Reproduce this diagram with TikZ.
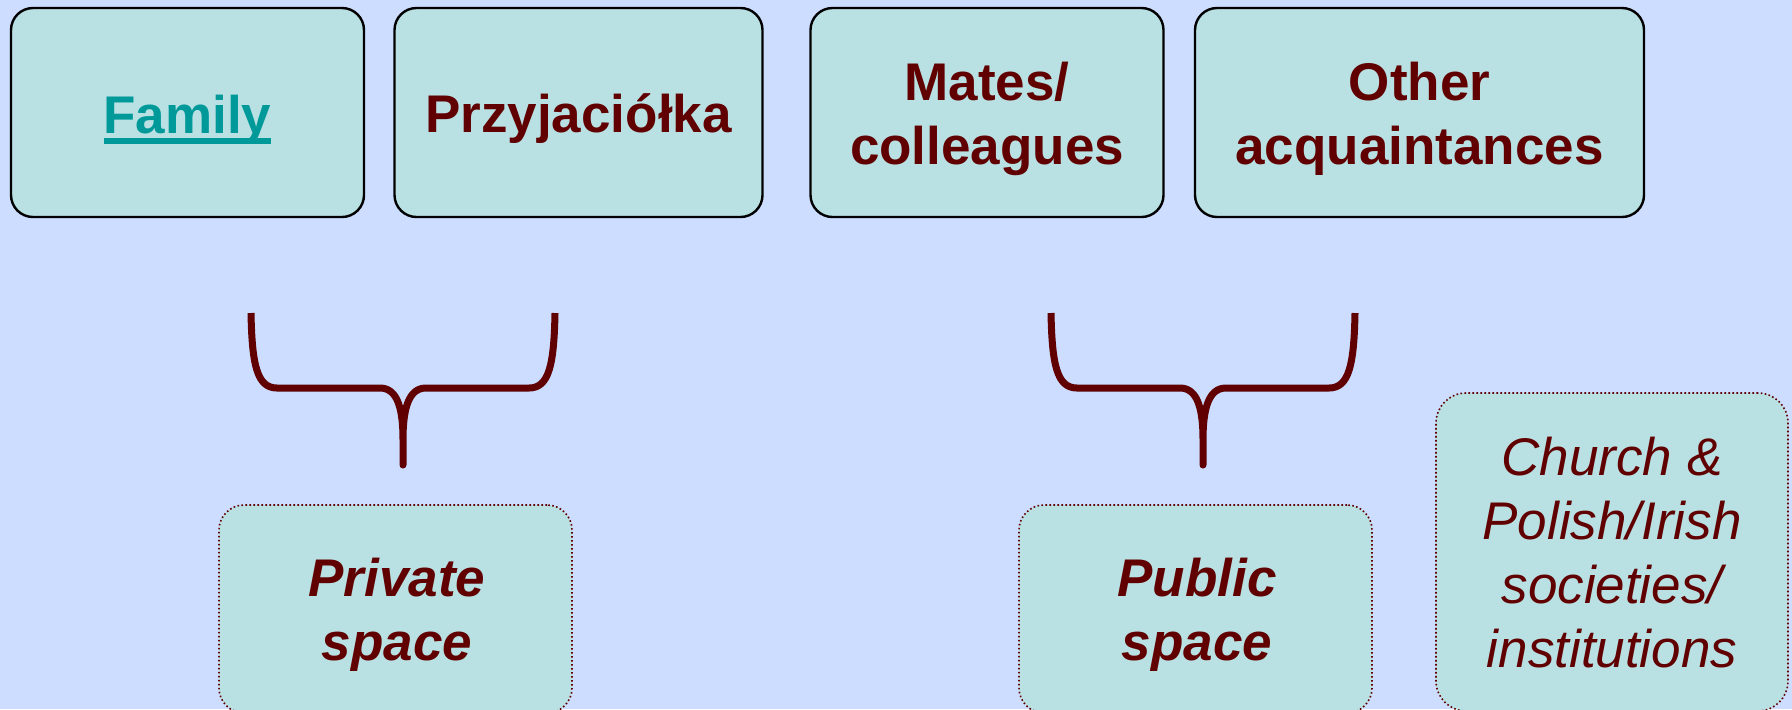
\documentclass[tikz,border=0pt]{standalone}
\usepackage{fontspec}
\setmainfont{Liberation Sans}
\definecolor{pagebg}{HTML}{CCDDFF}
\definecolor{boxfill}{HTML}{B9E0E3}
\definecolor{wine}{HTML}{600000}
\definecolor{linkteal}{HTML}{009999}
% underline drawn as a thick rule under the word
\newcommand{\linkword}[1]{\setbox0=\hbox{#1}\rlap{\rule[-5.5pt]{\wd0}{3pt}}\box0}
\tikzset{
  topbox/.style={draw=black, line width=1.2pt, fill=boxfill, rounded corners=11pt,
    minimum height=104.5pt, inner sep=0pt},
  spacebox/.style={draw=wine, line width=0.8pt, dash pattern=on 0.8pt off 1.2pt,
    fill=boxfill, inner sep=0pt},
  lbl/.style={text=wine, font=\fontsize{26.5}{31.75}\selectfont\bfseries,
    align=center, anchor=base, inner sep=0pt},
  lblit/.style={lbl, font=\fontsize{26.5}{31.75}\selectfont\bfseries\itshape},
  lblplain/.style={lbl, font=\fontsize{26.5}{32}\selectfont\itshape},
  bracestroke/.style={draw=wine, line width=3.5pt, line cap=butt, line join=round},
  pics/bracket/.style={code={
    \draw[bracestroke] (-152,-152) .. controls (-151,-100) and (-146,-77) .. (-126,-77)
      -- (-23,-77) .. controls (-5,-77) and (0,-55) .. (0,-25) -- (0,0)
      -- (0,-25) .. controls (0,-55) and (5,-77) .. (23,-77)
      -- (126,-77) .. controls (146,-77) and (151,-100) .. (152,-152);
  }}
}
\begin{document}
\begin{tikzpicture}[x=0.5pt, y=-0.5pt]
  \useasboundingbox (0,0) rectangle (1792,709);
  \clip (0,0) rectangle (1792,709);
  \fill[pagebg] (0,0) rectangle (1792,709);

  % upper row of relationship boxes
  \node[topbox, minimum width=176.5pt] (fam)   at (187.5,112.5) {};
  \node[topbox, minimum width=184pt]   (prz)   at (578.5,112.5) {};
  \node[topbox, minimum width=176.5pt] (mates) at (987,112.5)   {};
  \node[topbox, minimum width=224.5pt] (other) at (1419.5,112.5) {};

  % labels are placed by the baseline of their last line
  \node[lbl, text=linkteal] (famtxt) at (187.5,133) {\linkword{Family}};
  \node[lbl] (prztxt)   at (578.5,132) {Przyjaciółka};
  \node[lbl] (matestxt) at (987,164)   {Mates/\\colleagues};
  \node[lbl] (othertxt) at (1419.5,164) {Other\\acquaintances};

  % grouping brackets
  \coordinate (tipA) at (403,465);
  \coordinate (tipB) at (1203,465);
  \pic at (tipA) {bracket};
  \pic at (tipB) {bracket};

  % lower row of space boxes
  \node[spacebox, rounded corners=12.5pt, minimum width=176.5pt, minimum height=104pt]
    (priv) at (395.5,609) {};
  \node[spacebox, rounded corners=12.5pt, minimum width=176.5pt, minimum height=104pt]
    (pub) at (1195.5,609) {};
  \node[spacebox, rounded corners=15pt, minimum width=176pt, minimum height=159pt]
    (church) at (1612,552) {};

  \node[lblit] (privtxt) at (397,660) {Private\\space};
  \node[lblit] (pubtxt)  at (1197,660) {Public\\space};
  \node[lblplain] (churchtxt) at (1612,667)
    {Church \&\\Polish/Irish\\societies/\\institutions};
\end{tikzpicture}
\end{document}
